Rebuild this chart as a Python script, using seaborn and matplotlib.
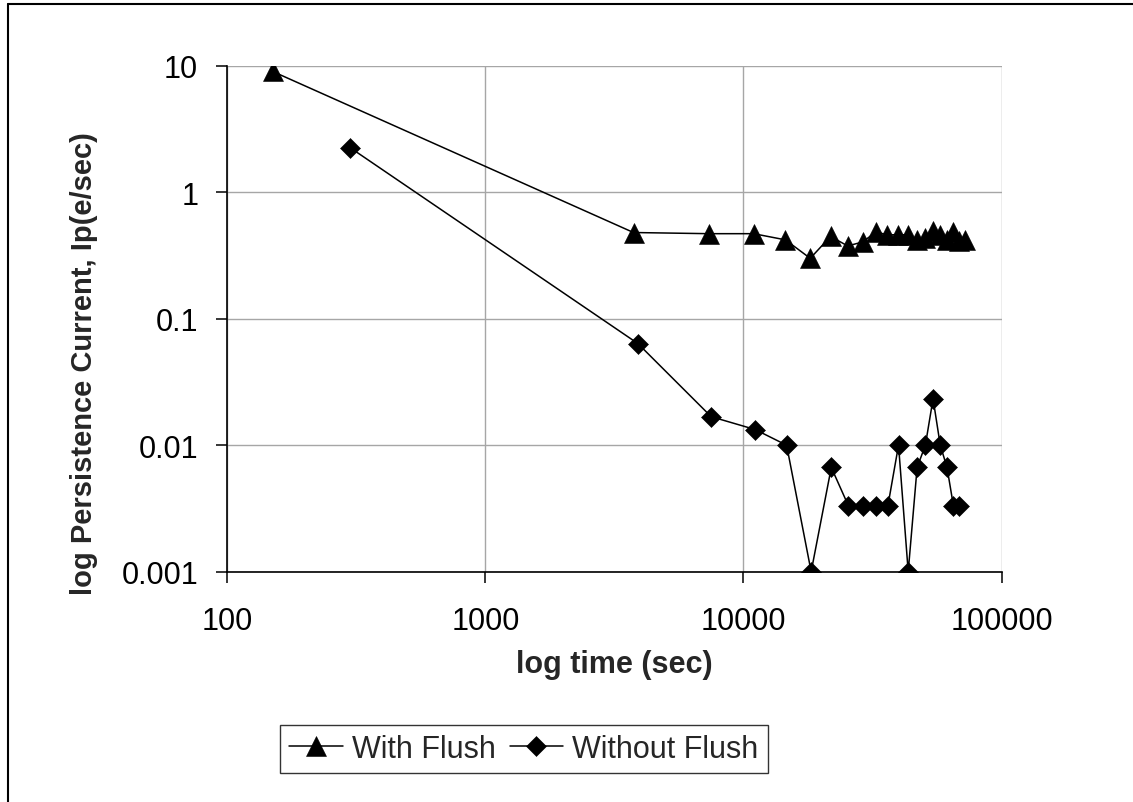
import matplotlib
matplotlib.use("Agg")
import matplotlib.pyplot as plt
from matplotlib.lines import Line2D
import seaborn as sns
import pandas as pd

# ---- data ----
time_with = [150, 3750, 7350, 10950, 14550, 18150, 21750, 25350, 28950, 32550,
             36150, 39750, 43350, 46950, 50550, 54150, 57750, 61350, 64950, 68550, 72150]
ip_with = [9.0, 0.48, 0.47, 0.47, 0.42, 0.30, 0.447, 0.376, 0.404, 0.484,
           0.461, 0.461, 0.461, 0.416, 0.434, 0.493, 0.461, 0.416, 0.484, 0.408, 0.42]

time_without = [300, 3900, 7500, 11100, 14700, 18300, 21900, 25500, 29100, 32700,
                36300, 39900, 43500, 47100, 50700, 54300, 57900, 61500, 65100, 68700]
ip_without = [2.24, 0.0636, 0.0168, 0.0133, 0.01, 0.001, 0.00667, 0.00333, 0.00333, 0.00333,
              0.00333, 0.01, 0.001, 0.00667, 0.01, 0.0233, 0.01, 0.00667, 0.00333, 0.00333]

series_names = ["With Flush", "Without Flush"]
x_ticks = [100, 1000, 10000, 100000]
x_tick_labels = ["100", "1000", "10000", "100000"]
y_ticks = [0.001, 0.01, 0.1, 1, 10]
y_tick_labels = ["0.001", "0.01", "0.1", "1", "10"]
x_label = "log time (sec)"
y_label = "log Persistence Current, Ip(e/sec)"

# ---- style ----
sns.set_style("white")
plt.rcParams["font.family"] = ["Liberation Sans", "DejaVu Sans"]

W, H = 1133, 803
fig = plt.figure(figsize=(W / 100, H / 100), dpi=100)
ax_left, ax_right, ax_top, ax_bottom = 227.3, 1001.5, 66.7, 572.7
ax = fig.add_axes([ax_left / W, 1 - ax_bottom / H, (ax_right - ax_left) / W, (ax_bottom - ax_top) / H])

df_with = pd.DataFrame({"time": time_with, "ip": ip_with})
df_without = pd.DataFrame({"time": time_without, "ip": ip_without})

sns.lineplot(data=df_with, x="time", y="ip", ax=ax, color="black", lw=1.1,
             marker="^", markersize=14.4, markeredgecolor="black", markeredgewidth=0.4,
             estimator=None, sort=False, label=series_names[0])
sns.lineplot(data=df_without, x="time", y="ip", ax=ax, color="black", lw=1.1,
             marker="D", markersize=10.2, markeredgecolor="black", markeredgewidth=0.4,
             estimator=None, sort=False, label=series_names[1])

ax.set_xscale("log")
ax.set_yscale("log")
ax.set_xlim(100, 100000)
ax.set_ylim(0.001, 10)
ax.set_xticks(x_ticks)
ax.set_xticklabels(x_tick_labels)
ax.set_yticks(y_ticks)
ax.set_yticklabels(y_tick_labels)
ax.minorticks_off()

ax.grid(True, which="major", color="#a6a6a6", lw=1.0)
ax.set_axisbelow(True)
for s in ["top", "right"]:
    ax.spines[s].set_visible(False)
for s in ["left", "bottom"]:
    ax.spines[s].set_color("black")
    ax.spines[s].set_linewidth(1.2)
    ax.spines[s].set_zorder(3)

ax.tick_params(axis="both", which="major", direction="out", length=8, width=1.1,
               color="black", labelsize=22, labelcolor="black")
ax.tick_params(axis="x", pad=17, bottom=True)
ax.tick_params(axis="y", pad=13, left=True)

ax.set_xlabel(x_label, fontsize=22, fontweight="bold", labelpad=9)
ax.set_ylabel(y_label, fontsize=21, fontweight="bold")
# label centred a little below the plot-area centre, as in the reference
ax.yaxis.set_label_coords((98 - ax_left) / (ax_right - ax_left),
                          (ax_bottom - 364) / (ax_bottom - ax_top))

handles, labels = ax.get_legend_handles_labels()
if ax.get_legend() is not None:
    ax.get_legend().remove()
leg = fig.legend(handles, labels, loc="center", bbox_to_anchor=(524 / W, 1 - 750 / H),
                 bbox_transform=fig.transFigure, ncol=2, fontsize=22, frameon=True,
                 fancybox=False, edgecolor="black", handlelength=1.75, handletextpad=0.3,
                 columnspacing=0.45, borderpad=0.3, borderaxespad=0)
leg.get_frame().set_linewidth(1.0)

# outer figure border (left and top edges visible)
fig.add_artist(Line2D([8 / W, 8 / W], [0, 1 - 5 / H], transform=fig.transFigure,
                      color="black", lw=1.5))
fig.add_artist(Line2D([8 / W, 1], [1 - 5 / H, 1 - 5 / H], transform=fig.transFigure,
                      color="black", lw=1.5))

fig.savefig("out.png", dpi=100, facecolor="white")
